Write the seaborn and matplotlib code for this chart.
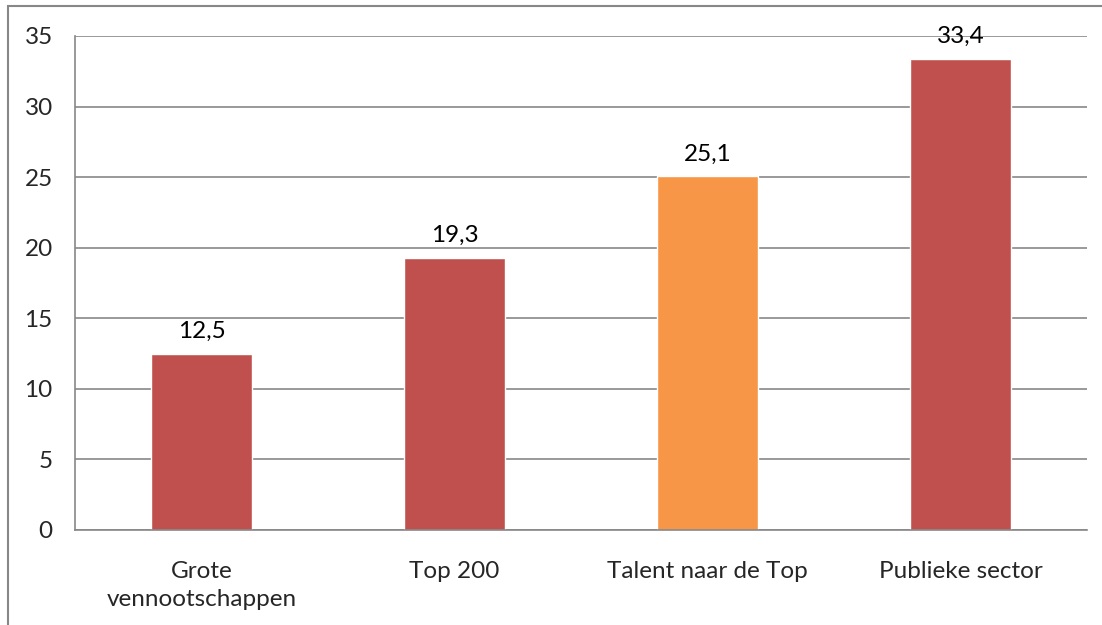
import matplotlib
matplotlib.use("Agg")
import matplotlib.pyplot as plt
import seaborn as sns
import pandas as pd
from matplotlib.patches import Rectangle

categories = ["Grote\nvennootschappen", "Top 200", "Talent naar de Top", "Publieke sector"]
values = [12.5, 19.3, 25.1, 33.4]
value_labels = ["12,5", "19,3", "25,1", "33,4"]
bar_colors = ["#C0504D", "#C0504D", "#F79646", "#C0504D"]
y_ticks = [0, 5, 10, 15, 20, 25, 30, 35]

sns.set_theme(style="white")
plt.rcParams["font.family"] = ["Lato", "DejaVu Sans"]

FS = 17.5
df = pd.DataFrame({"cat": categories, "val": values})

fig = plt.figure(figsize=(11.02, 6.25), dpi=100)
ax = fig.add_axes([75 / 1102, 1 - 530 / 625, (1087 - 75) / 1102, (530 - 36) / 625])

sns.barplot(data=df, x="cat", y="val", hue="cat", palette=bar_colors,
            width=0.4, legend=False, ax=ax, saturation=1)

grid_c = "#878787"
ax.set_ylim(0, 35)
ax.set_xlim(-0.5, len(categories) - 0.5)
ax.set_yticks(y_ticks)
ax.set_yticklabels([str(t) for t in y_ticks], fontsize=FS)
ax.yaxis.grid(True, color=grid_c, linewidth=1.2)
ax.set_axisbelow(True)
ax.set_xlabel("")
ax.set_ylabel("")

# category labels centred on bars, tick marks between categories
ax.set_xticks(range(len(categories)))
ax.set_xticklabels(categories, fontsize=FS, linespacing=1.45)
ax.tick_params(axis="x", length=0, pad=22)
ax.set_xticks([i - 0.5 for i in range(len(categories) + 1)], minor=True)
ax.tick_params(axis="x", which="minor", length=6, width=1.2, color=grid_c, direction="out")
ax.tick_params(axis="y", length=6, width=1.2, color=grid_c, direction="out", pad=10)

for side in ["top", "right"]:
    ax.spines[side].set_visible(False)
ax.spines["left"].set_color(grid_c)
ax.spines["left"].set_linewidth(1.2)
ax.spines["bottom"].set_color(grid_c)
ax.spines["bottom"].set_linewidth(1.2)

for i, (v, lab) in enumerate(zip(values, value_labels)):
    ax.annotate(lab, (i, v), xytext=(0, 11), textcoords="offset points",
                ha="center", va="baseline", fontsize=FS, color="black")

# chart area outline
fig.patches.append(Rectangle((8 / 1102, -0.1), 1.2, 1 - 6 / 625 + 0.1,
                             transform=fig.transFigure, fill=False,
                             edgecolor=grid_c, linewidth=1.5))

fig.savefig("out.png", dpi=100, facecolor="white")
